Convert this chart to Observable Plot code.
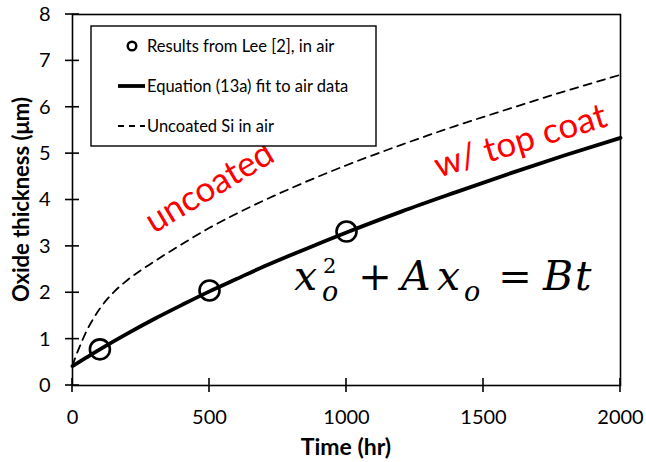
<!DOCTYPE html>
<html>
<head>
<meta charset="utf-8">
<script src="https://cdn.jsdelivr.net/npm/d3@7"></script>
<script src="https://cdn.jsdelivr.net/npm/@observablehq/plot@0.6"></script>
<style>
  html, body { margin: 0; padding: 0; background: #fff; }
  #chart { width: 646px; height: 462px; }
</style>
</head>
<body>
<div id="chart"></div>
<script>
// Data
const leeTime = [100, 500, 1000];
const leeThickness = [0.78, 2.05, 3.32];

const fitTime = [0, 50, 100, 200, 300, 400, 500, 600, 700, 800, 900, 1000, 1200, 1400, 1600, 1800, 2000];
const fitThickness = [0.42, 0.60, 0.78, 1.12, 1.44, 1.74, 2.03, 2.30, 2.57, 2.82, 3.06, 3.30, 3.75, 4.17, 4.58, 4.97, 5.34];

const uncoatedTime = [0, 10, 25, 50, 75, 100, 150, 200, 300, 400, 500, 600, 800, 1000, 1200, 1400, 1600, 1800, 2000];
const uncoatedThickness = [0.42, 0.60, 0.82, 1.16, 1.43, 1.66, 2.01, 2.27, 2.68, 3.05, 3.40, 3.71, 4.26, 4.75, 5.19, 5.60, 5.98, 6.35, 6.70];

const xTicks = [0, 500, 1000, 1500, 2000];
const yTicks = [0, 1, 2, 3, 4, 5, 6, 7, 8];

const legendLabels = ["Results from Lee [2], in air", "Equation (13a) fit to air data", "Uncoated Si in air"];
const annotations = [
  {text: "uncoated", t: 500, v: 4.27, angle: -31},
  {text: "w/ top coat", t: 1635, v: 5.27, angle: -17}
];

const lee = leeTime.map((t, i) => ({t, v: leeThickness[i]}));
const fit = fitTime.map((t, i) => ({t, v: fitThickness[i]}));
const uncoated = uncoatedTime.map((t, i) => ({t, v: uncoatedThickness[i]}));

const FONT = "Lato, 'Open Sans', sans-serif";
const MATH = "'DejaVu Serif', 'Liberation Serif', serif";

const plot = Plot.plot({
  width: 646,
  height: 462,
  marginLeft: 72,
  marginRight: 26,
  marginTop: 14,
  marginBottom: 77,
  style: {fontFamily: FONT, background: "#fff", color: "#000", overflow: "visible"},
  x: {domain: [0, 2000], ticks: xTicks},
  y: {domain: [0, 8], ticks: yTicks},
  marks: [
    Plot.axisX({ticks: xTicks, tickSize: 0, tickPadding: 24, fontSize: 20, label: null, tickFormat: d => String(d)}),
    Plot.axisY({ticks: yTicks, tickSize: 0, tickPadding: 22, fontSize: 20, label: null, tickFormat: d => String(d)}),
    Plot.frame({stroke: "#000", strokeWidth: 1.6}),
    Plot.line(uncoated, {x: "t", y: "v", stroke: "#000", strokeWidth: 1.8, strokeDasharray: "8,6", curve: "monotone-x"}),
    Plot.line(fit, {x: "t", y: "v", stroke: "#000", strokeWidth: 3.8, curve: "monotone-x"}),
    Plot.dot(lee, {x: "t", y: "v", r: 10, stroke: "#000", strokeWidth: 2.6, fill: "none"}),
    Plot.text(annotations, {x: "t", y: "v", text: "text", rotate: "angle", fill: "#ff0000", fontSize: 35, fontFamily: FONT})
  ]
});

document.getElementById("chart").appendChild(plot);

const svg = d3.select(plot);
const xs = plot.scale("x"), ys = plot.scale("y");
const X = v => xs.apply(v), Y = v => ys.apply(v);

// crossing tick marks
const tk = svg.append("g").attr("stroke", "#000").attr("stroke-width", 1.6);
xTicks.forEach(t => tk.append("line").attr("x1", X(t)).attr("x2", X(t)).attr("y1", Y(0) - 7).attr("y2", Y(0) + 7));
yTicks.forEach(v => tk.append("line").attr("x1", X(0) - 7).attr("x2", X(0) + 7).attr("y1", Y(v)).attr("y2", Y(v)));

// axis titles
svg.append("text").attr("x", (X(0) + X(2000)) / 2).attr("y", 455)
  .attr("text-anchor", "middle").attr("font-family", FONT).attr("font-weight", "bold").attr("font-size", 23).text("Time (hr)");
svg.append("text").attr("transform", `translate(21,${(Y(0) + Y(8)) / 2}) rotate(-90)`)
  .attr("text-anchor", "middle").attr("dy", "0.35em").attr("font-family", FONT).attr("font-weight", "bold").attr("font-size", 22).text("Oxide thickness (μm)");

// legend
const lg = svg.append("g").attr("font-family", FONT).attr("font-size", 16.5).attr("text-anchor", "start");
lg.append("rect").attr("x", 91).attr("y", 26).attr("width", 285).attr("height", 120)
  .attr("fill", "#fff").attr("stroke", "#000").attr("stroke-width", 1.4);
lg.append("circle").attr("cx", 132).attr("cy", 46).attr("r", 4.3).attr("fill", "none").attr("stroke", "#000").attr("stroke-width", 2.4);
lg.append("line").attr("x1", 118).attr("x2", 145).attr("y1", 86).attr("y2", 86).attr("stroke", "#000").attr("stroke-width", 3.8);
lg.append("line").attr("x1", 118).attr("x2", 145).attr("y1", 126).attr("y2", 126).attr("stroke", "#000").attr("stroke-width", 1.8).attr("stroke-dasharray", "6,5");
[46, 86, 126].forEach((y, i) => lg.append("text").attr("x", 147).attr("y", y).attr("dy", "0.35em").text(legendLabels[i]));

// equation  x_o^2 + A x_o = B t
const eq = svg.append("g").attr("font-family", MATH).attr("fill", "#000").attr("text-anchor", "start");
const piece = (txt, x, y, size, italic, anchor) => eq.append("text")
  .attr("x", x).attr("y", y).attr("font-size", size).attr("font-style", italic ? "italic" : "normal")
  .attr("text-anchor", anchor || "start").text(txt);
piece("x", 294, 290, 41, true);
piece("2", 323, 273, 21, false);
piece("o", 322, 301, 27, true);
piece("+", 375, 290, 40, false, "middle");
piece("A", 401, 290, 41, true);
piece("x", 437, 290, 41, true);
piece("o", 464, 301, 27, true);
piece("=", 515, 290, 40, false, "middle");
piece("B", 543, 290, 41, true);
piece("t", 575, 290, 41, true);
</script>
</body>
</html>
